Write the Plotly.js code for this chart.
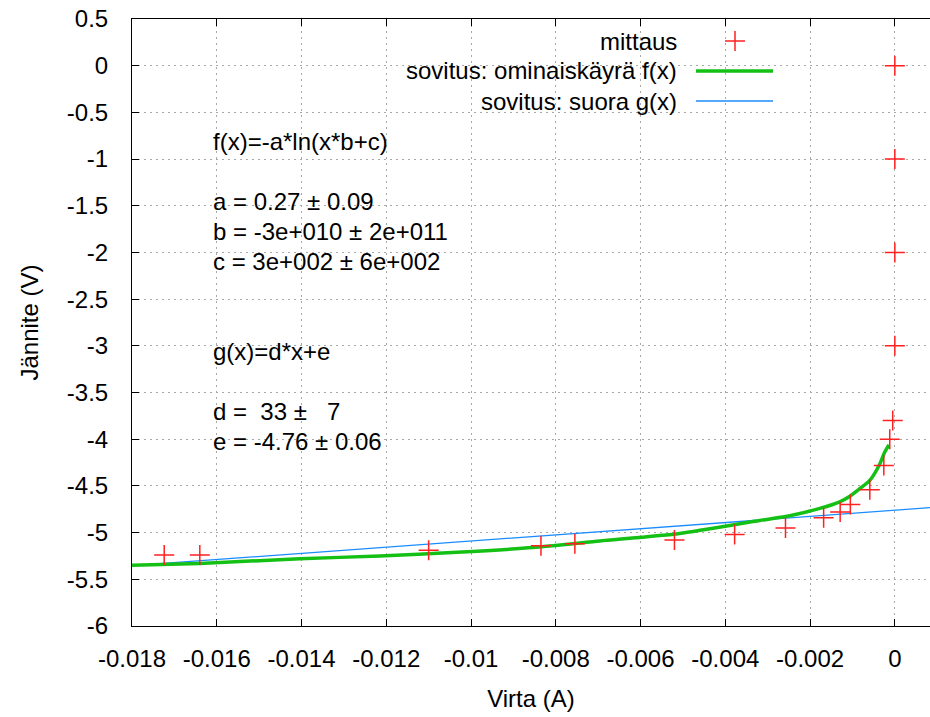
<!DOCTYPE html>
<html>
<head>
<meta charset="utf-8">
<script src="https://cdn.plot.ly/plotly-3.0.1.min.js"></script>
<style>html,body{margin:0;padding:0;background:#fff;}#chart{width:930px;height:717px;}</style>
</head>
<body>
<div id="chart"></div>
<script>
// Measurements (mittaus)
const measX = [-0.01724, -0.01640, -0.01100, -0.00835, -0.00755, -0.00520, -0.00378, -0.00258, -0.00168, -0.00129, -0.00105, -0.00059, -0.00026, -0.00012, -0.00005, 0, 0, 0, 0];
const measY = [-5.24, -5.24, -5.19, -5.14, -5.12, -5.08, -5.02, -4.95, -4.84, -4.78, -4.70, -4.54, -4.28, -4.00, -3.80, -3.0, -2.0, -1.0, 0.0];

// Fit f(x)
const fitFX = [-0.018, -0.01640, -0.01404, -0.01215, -0.01033, -0.00854, -0.00696, -0.00508, -0.00319, -0.00248, -0.00177, -0.00130, -0.00106, -0.00083, -0.00059, -0.00036, -0.00024, -0.00014];
const fitFY = [-5.35, -5.33, -5.28, -5.25, -5.21, -5.16, -5.09, -5.01, -4.87, -4.82, -4.74, -4.67, -4.61, -4.53, -4.44, -4.27, -4.14, -4.06];

// Fit g(x) (straight line) endpoints
const fitGX = [-0.018, 0.00083];
const fitGY = [-5.354, -4.733];

const xTickVals = [-0.018, -0.016, -0.014, -0.012, -0.01, -0.008, -0.006, -0.004, -0.002, 0];
const xTickText = ["-0.018", "-0.016", "-0.014", "-0.012", "-0.01", "-0.008", "-0.006", "-0.004", "-0.002", "0"];
const yTickVals = [0.5, 0, -0.5, -1, -1.5, -2, -2.5, -3, -3.5, -4, -4.5, -5, -5.5, -6];
const yTickText = ["0.5", "0", "-0.5", "-1", "-1.5", "-2", "-2.5", "-3", "-3.5", "-4", "-4.5", "-5", "-5.5", "-6"];

const legendNames = ["mittaus", "sovitus: ominaiskäyrä f(x)", "sovitus: suora g(x)"];
const infoLines = [
  "f(x)=-a*ln(x*b+c)", "", "a = 0.27 ± 0.09", "b = -3e+010 ± 2e+011", "c = 3e+002 ± 6e+002",
  "", "", "g(x)=d*x+e", "", "d =  33 ±   7", "e = -4.76 ± 0.06"
];

const RED = "#ff2020", GREEN = "#14c014", BLUE = "#1a8cff";
const FONT = "Liberation Sans, Arial, sans-serif";
const FS = 24;

// plot area in pixels
const L = 132, R = 930, T = 19, B = 626;
const px = v => (v - L) / (R - L);
const py = v => (B - v) / (B - T);

const traces = [
  {x: fitGX, y: fitGY, mode: "lines", name: legendNames[2], line: {color: BLUE, width: 1.3}, showlegend: false},
  {x: fitFX, y: fitFY, mode: "lines", name: legendNames[1], line: {color: GREEN, width: 3.5, shape: "spline", smoothing: 0.6}, showlegend: false},
  {x: measX, y: measY, mode: "markers", name: legendNames[0], showlegend: false,
   marker: {symbol: "cross-thin-open", size: 14.3, color: RED, line: {color: RED, width: 1.5}}}
];

const annotations = [];
infoLines.forEach((t, i) => {
  if (!t) return;
  annotations.push({xref: "paper", yref: "paper", x: px(211), y: py(141 + 30 * i),
    xanchor: "left", yanchor: "middle", showarrow: false,
    text: t.replace(/ /g, "\u00a0"), font: {family: FONT, size: FS, color: "#000"}});
});
const legY = [41, 71, 101];
legendNames.forEach((t, i) => {
  annotations.push({xref: "paper", yref: "paper", x: px(679), y: py(legY[i]),
    xanchor: "right", yanchor: "middle", showarrow: false,
    text: t, font: {family: FONT, size: FS, color: "#000"}});
});

const shapes = [
  // legend samples
  {type: "line", xref: "paper", yref: "paper", x0: px(725), x1: px(745), y0: py(41), y1: py(41), line: {color: RED, width: 1.5}},
  {type: "line", xref: "paper", yref: "paper", x0: px(735), x1: px(735), y0: py(31), y1: py(51), line: {color: RED, width: 1.5}},
  {type: "line", xref: "paper", yref: "paper", x0: px(696), x1: px(773), y0: py(71), y1: py(71), line: {color: GREEN, width: 3.5}},
  {type: "line", xref: "paper", yref: "paper", x0: px(696), x1: px(773), y0: py(101), y1: py(101), line: {color: BLUE, width: 1.3}}
];

const layout = {
  width: 930, height: 717,
  margin: {l: L, r: 930 - R, t: T, b: 717 - B, pad: 0},
  paper_bgcolor: "#fff", plot_bgcolor: "#fff",
  font: {family: FONT, size: FS, color: "#000"},
  showlegend: false,
  xaxis: {
    range: [-0.018, 0.00083], autorange: false,
    tickmode: "array", tickvals: xTickVals, ticktext: xTickText,
    ticks: "inside", ticklen: 7, tickwidth: 1, tickcolor: "#000",
    showline: true, linecolor: "#000", linewidth: 1, mirror: "ticks",
    showgrid: true, gridcolor: "#a8a8a8", gridwidth: 1, griddash: "2px,4px",
    zeroline: false, ticklabelstandoff: 11,
    tickfont: {family: FONT, size: FS, color: "#000"},
    title: {text: "Virta (A)", font: {family: FONT, size: FS, color: "#000"}, standoff: 19}
  },
  yaxis: {
    range: [-6, 0.5], autorange: false,
    tickmode: "array", tickvals: yTickVals, ticktext: yTickText,
    ticks: "inside", ticklen: 7, tickwidth: 1, tickcolor: "#000",
    showline: true, linecolor: "#000", linewidth: 1, mirror: false,
    showgrid: true, gridcolor: "#a8a8a8", gridwidth: 1, griddash: "2px,4px",
    zeroline: false, ticklabelstandoff: 18,
    tickfont: {family: FONT, size: FS, color: "#000"},
    title: {text: "Jännite (V)", font: {family: FONT, size: FS, color: "#000"}, standoff: 21}
  },
  annotations: annotations,
  shapes: shapes
};

Plotly.newPlot("chart", traces, layout, {displayModeBar: false, staticPlot: true});
</script>
</body>
</html>
